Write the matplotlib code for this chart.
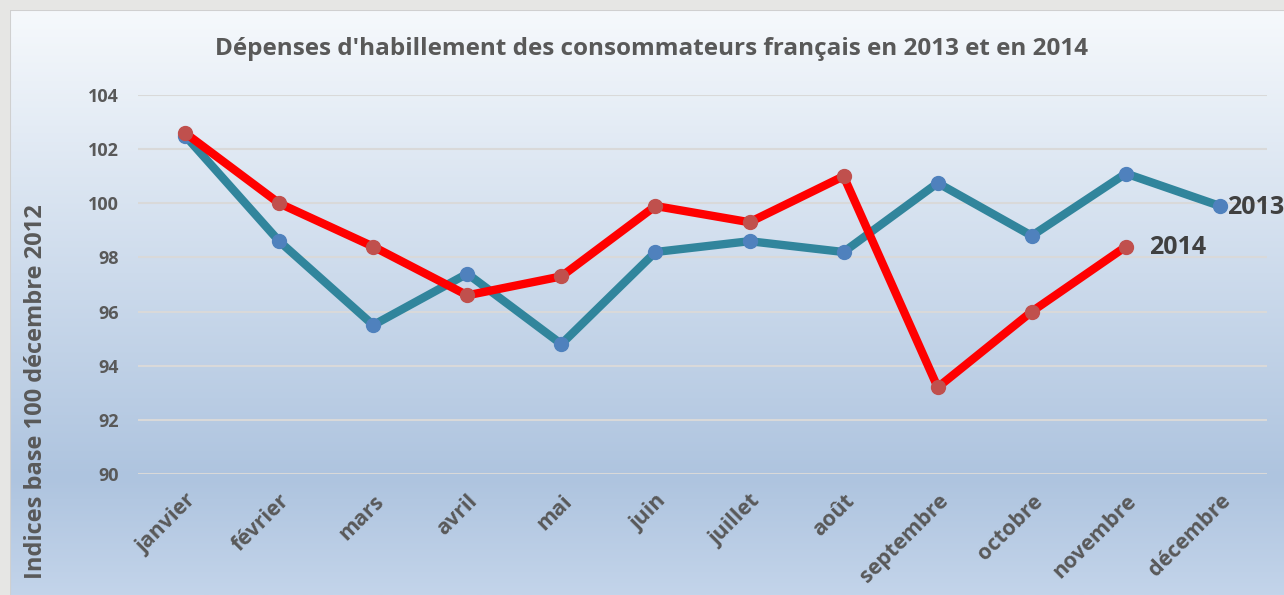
import numpy as np
import matplotlib
matplotlib.use('agg')
import matplotlib.pyplot as plt
from matplotlib.colors import LinearSegmentedColormap

# donnees
mois = ['janvier', 'février', 'mars', 'avril', 'mai', 'juin', 'juillet',
        'août', 'septembre', 'octobre', 'novembre', 'décembre']
val_2013 = [102.5, 98.6, 95.5, 97.4, 94.8, 98.2, 98.6, 98.2, 100.75, 98.8, 101.1, 99.9]
val_2014 = [102.6, 100.0, 98.4, 96.6, 97.3, 99.9, 99.3, 101.0, 93.2, 96.0, 98.4]
yticks = [90, 92, 94, 96, 98, 100, 102, 104]

plt.rcParams['font.family'] = ['Open Sans', 'DejaVu Sans']
gris = '#595959'

W, H = 1284, 595
fig = plt.figure(figsize=(W/100, H/100), dpi=100)
fig.patch.set_facecolor('#e6e6e4')

# fond degrade du graphique
bg = fig.add_axes([10/W, 0, 1 - 10/W, 1 - 10/H])
grad = LinearSegmentedColormap.from_list('fond', [
    (0.0, '#c3d4ea'), (0.2, '#aec4df'), (0.55, '#cddbec'), (1.0, '#f6f9fc')])
bg.imshow(np.linspace(0, 1, 256).reshape(-1, 1), aspect='auto', cmap=grad,
          origin='lower', extent=[0, 1, 0, 1])
bg.set_axis_off()
bg.plot([0, 0, 1], [0, 1, 1], color='#d0d0d0', lw=1.5, transform=bg.transAxes)

# zone de tracage : 104 a 95 px, 90 a 474 px
ax = fig.add_axes([138/W, 1 - 474/H, (1267 - 138)/W, (474 - 95)/H])
ax.patch.set_alpha(0)
x = np.arange(len(mois))
ax.set_xlim(-0.5, len(mois) - 0.5)
ax.set_ylim(90, 104)
ax.grid(axis='y', color='#d9d9d9', lw=1.5)
ax.set_axisbelow(True)
for s in ax.spines.values():
    s.set_visible(False)
ax.tick_params(length=0)

ax.plot(x, val_2013, color='#31859c', lw=6, marker='o', ms=10,
        mfc='#4f81bd', mec='#4f81bd', zorder=3)
ax.plot(x[:len(val_2014)], val_2014, color='#ff0000', lw=6, marker='o', ms=10,
        mfc='#c0504d', mec='#c0504d', zorder=4)

ax.set_yticks(yticks)
ax.set_yticklabels([str(v) for v in yticks], fontsize=13, fontweight='bold', color=gris)
ax.tick_params(axis='y', pad=14)
ax.set_xticks(x)
ax.set_xticklabels(mois, rotation=45, ha='right', rotation_mode='anchor',
                   fontsize=15.5, fontweight='bold', color=gris)
ax.tick_params(axis='x', pad=12)

ax.annotate('2013', (x[-1], val_2013[-1]), xytext=(5, -1), textcoords='offset points',
            va='center', ha='left', fontsize=18, fontweight='bold', color='#404040',
            annotation_clip=False)
ax.annotate('2014', (x[len(val_2014) - 1], val_2014[-1]), xytext=(17, -1),
            textcoords='offset points', va='center', ha='left', fontsize=18,
            fontweight='bold', color='#404040', annotation_clip=False)

fig.text(652/W, 1 - 49/H, "Dépenses d'habillement des consommateurs français en 2013 et en 2014",
         ha='center', va='center', fontsize=17.5, fontweight='bold', color=gris)
fig.text(36/W, 1 - 392/H, 'Indices base 100 décembre 2012', rotation=90,
         ha='center', va='center', fontsize=17, fontweight='bold', color=gris)

fig.savefig('out.png', dpi=100, facecolor=fig.get_facecolor())
